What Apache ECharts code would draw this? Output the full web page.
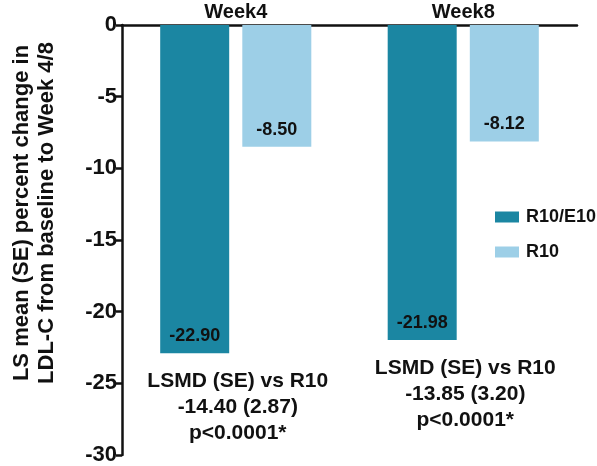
<!DOCTYPE html>
<html>
<head>
<meta charset="utf-8">
<script src="https://cdn.jsdelivr.net/npm/echarts@6/dist/echarts.min.js"></script>
<style>html,body{margin:0;padding:0;background:#fff;}#c{width:597px;height:466px;}</style>
</head>
<body>
<div id="c"></div>
<script>
const categories = ['Week4', 'Week8'];
const seriesNames = ['R10/E10', 'R10'];
const r10e10 = [-22.90, -21.98];
const r10 = [-8.50, -8.12];
const annotations = [
  'LSMD (SE) vs R10\n-14.40 (2.87)\np<0.0001*',
  'LSMD (SE) vs R10\n-13.85 (3.20)\np<0.0001*'
];
const yTitle = 'LS mean (SE) percent change in\nLDL-C from baseline to Week 4/8';

const FONT = '"Liberation Sans", Arial, sans-serif';
const chart = echarts.init(document.getElementById('c'), null, {renderer: 'canvas'});
const labelStyle = {
  show: true, position: 'insideBottom', distance: 8,
  color: '#111', fontWeight: 'bold', fontSize: 18, fontFamily: FONT,
  formatter: p => p.value.toFixed(2)
};
chart.setOption({
  animation: false,
  backgroundColor: '#fff',
  grid: {left: 122, right: 20, top: 25, bottom: 11, containLabel: false, outerBoundsMode: 'none'},
  legend: {
    orient: 'vertical', left: 490, top: 203,
    itemWidth: 24, itemHeight: 11, itemGap: 17, icon: 'rect',
    textStyle: {fontWeight: 'bold', fontSize: 18, color: '#111', fontFamily: FONT, padding: [0, 0, 0, 2]},
    data: seriesNames
  },
  xAxis: {
    type: 'category', position: 'top', data: categories,
    axisLine: {onZero: false, lineStyle: {color: '#111', width: 2.5}},
    axisTick: {show: false},
    axisLabel: {fontWeight: 'bold', fontSize: 20, color: '#111', fontFamily: FONT, margin: 3, lineHeight: 20}
  },
  yAxis: {
    type: 'value', min: -30, max: 0, interval: 5,
    axisLine: {show: true, lineStyle: {color: '#111', width: 2.5}},
    axisTick: {show: true, length: 6, lineStyle: {color: '#111', width: 2.5}},
    splitLine: {show: false},
    axisLabel: {fontWeight: 'bold', fontSize: 22, color: '#111', fontFamily: FONT, margin: 5}
  },
  series: [
    {name: seriesNames[0], type: 'bar', data: r10e10, barWidth: 69, barGap: '19%',
     itemStyle: {color: '#1b86a2'}, label: labelStyle},
    {name: seriesNames[1], type: 'bar', data: r10, barWidth: 69,
     itemStyle: {color: '#9dcfe7'}, label: labelStyle}
  ]
});

function drawGraphics() {
  const els = [{
    type: 'text', x: 34, y: 213, rotation: Math.PI / 2,
    style: {text: yTitle, font: 'bold 22px ' + FONT, fill: '#111', align: 'center', verticalAlign: 'middle', lineHeight: 25}
  }];
  categories.forEach((c, i) => {
    const px = chart.convertToPixel({gridIndex: 0}, [c, r10e10[i]]);
    els.push({
      type: 'text', x: px[0] + 2, y: px[1] + 15,
      style: {text: annotations[i], font: 'bold 21px ' + FONT, fill: '#111', align: 'center', verticalAlign: 'top', lineHeight: 26}
    });
  });
  chart.setOption({graphic: {elements: els}});
}
drawGraphics();
</script>
</body>
</html>
